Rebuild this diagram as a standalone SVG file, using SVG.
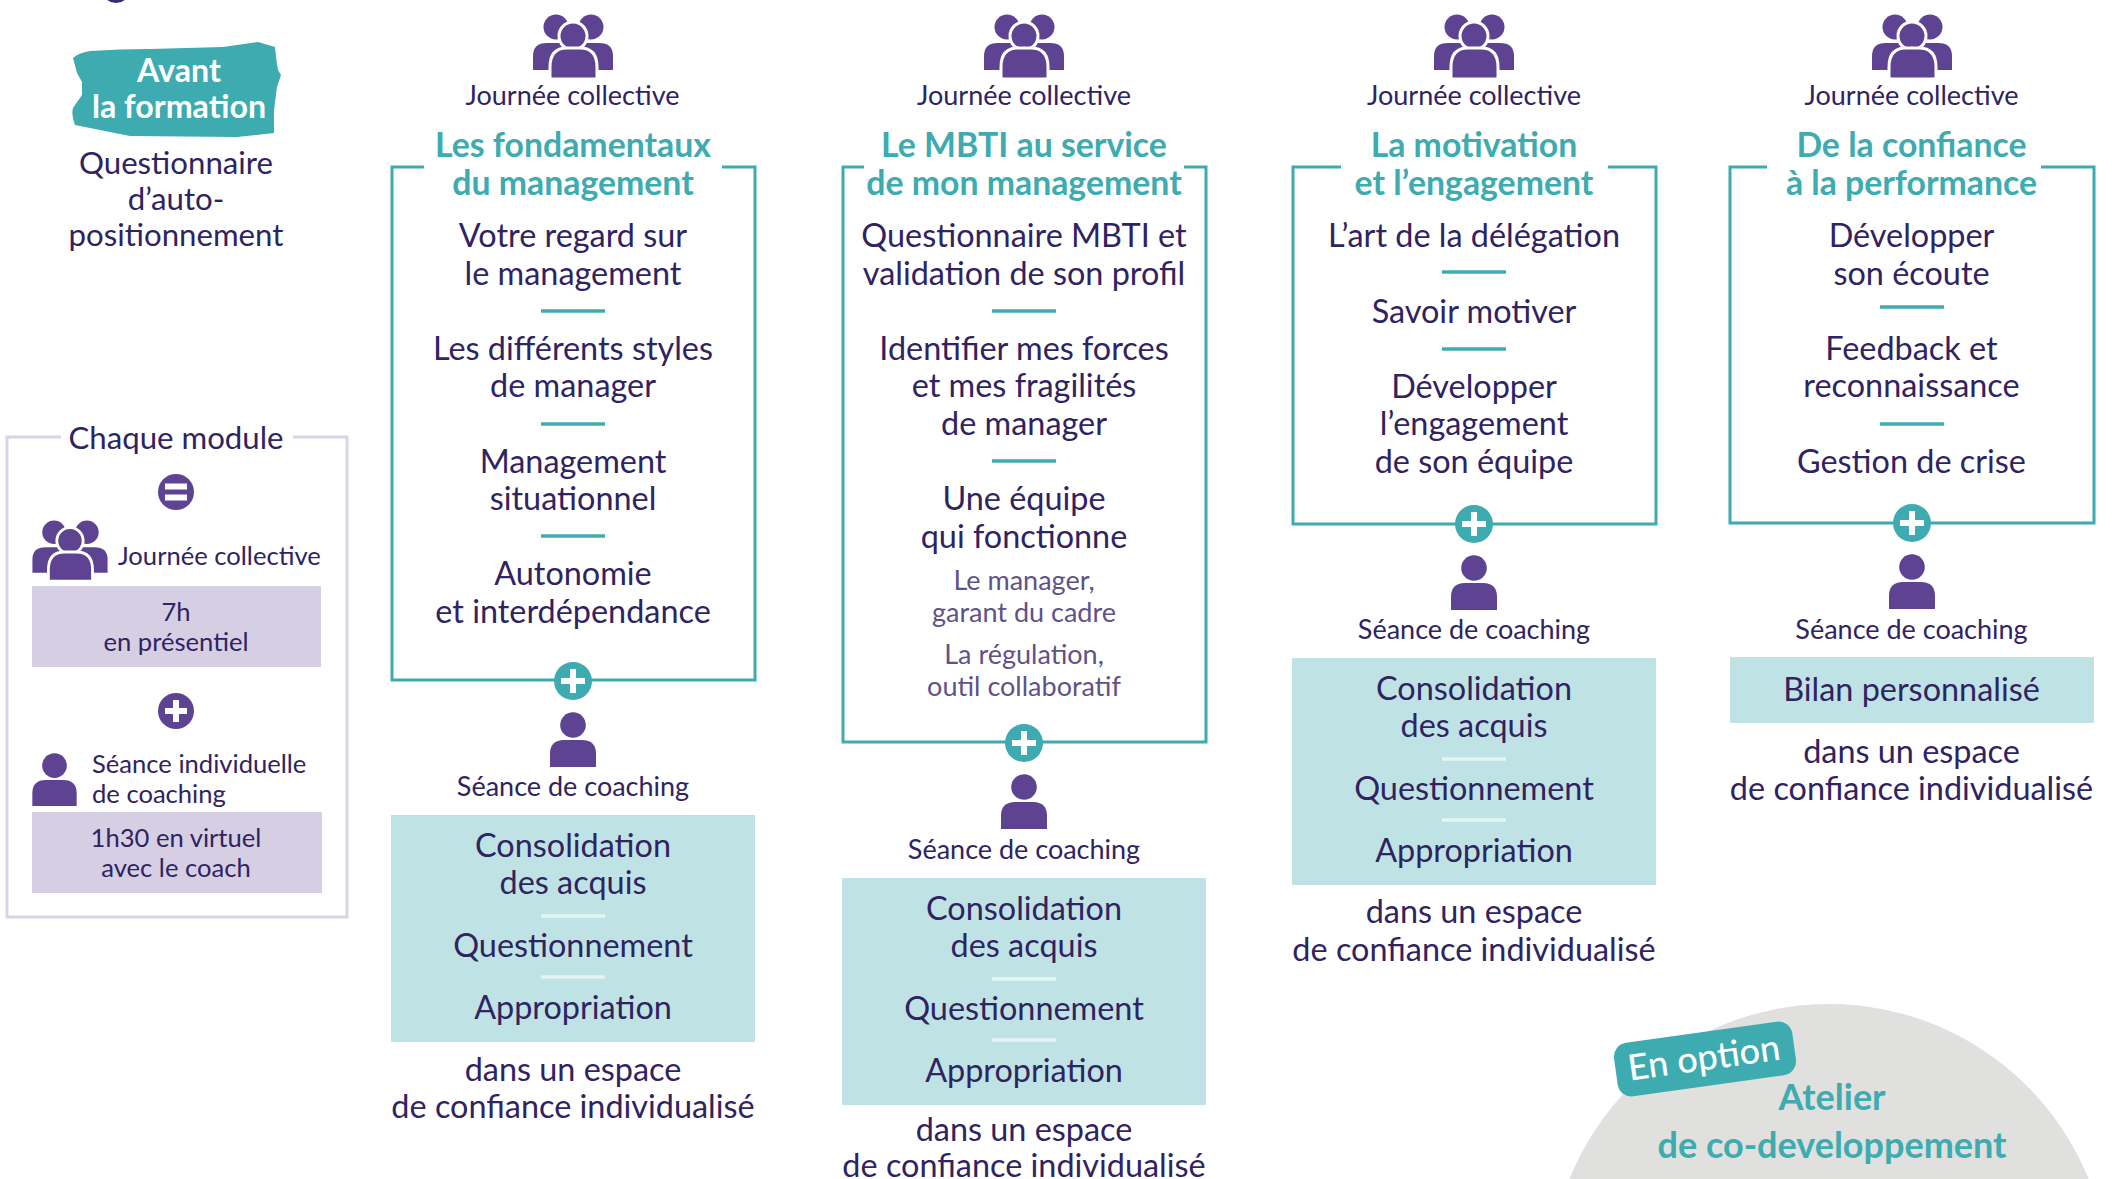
<svg xmlns="http://www.w3.org/2000/svg" width="2112" height="1179" viewBox="0 0 2112 1179">
<style>
text{font-family:"Lato","Noto Sans",sans-serif;text-anchor:middle;fill:#2f2361}
.q{font-size:31.200px}
.t{font-size:32.400px}
.h{font-size:33.800px;font-weight:700;fill:#3dabb0}
.j{font-size:27px}
.s{font-size:25.600px}
.l{font-size:27px;fill:#5f5288}
.w{fill:#fff;font-weight:700;font-size:32.200px}
.st{text-anchor:start}
.frame{fill:none;stroke:#3dabb0;stroke-width:3}
.mframe{fill:none;stroke:#d9d4e9;stroke-width:3}
.dash{stroke:#3dabb0;stroke-width:3.500}
.wdash{stroke:#e6f4f4;stroke-width:3.500}
.panel{fill:#bfe3e4}
.ppanel{fill:#d6cfe4}
.pb{stroke:#fff;stroke-width:6}
.big{font-size:36px}
</style>
<defs>
<symbol id="group" viewBox="0 0 80 66" overflow="visible">
<g fill="#5d4392">
<circle cx="23" cy="12" r="12.500"/><circle cx="58" cy="12" r="12.500"/>
<path d="M0 55V41Q0 28 14 28H66Q80 28 80 41V55Z"/>
<circle cx="40" cy="21" r="14" stroke="#fff" stroke-width="3"/>
<path d="M17 64V52Q17 33 34 33H47Q64 33 64 52V64Z" stroke="#fff" stroke-width="3"/>
</g>
</symbol>
<symbol id="person" viewBox="0 0 46 56" overflow="visible">
<g fill="#5d4392"><circle cx="23" cy="13" r="12.800"/><path d="M0 55V42Q0 28 14 28H32Q46 28 46 42V55Z"/></g>
</symbol>
<g id="plus"><circle r="19" fill="#3dabb0"/><path class="pb" d="M-12 0H12M0 -12V12"/></g>
<g id="pplus"><circle r="18" fill="#5d4392"/><path class="pb" d="M-11 0H11M0 -11V11"/></g>
</defs>
<rect width="2112" height="1179" fill="#fff"/>
<ellipse cx="116" cy="-8" rx="13" ry="11" fill="#3a2a6e"/>

<g id="avant">
<path d="M73 58Q78 53 90 51Q120 49 150 49L223 47L258 42L275 47Q276 60 278 70L281 75L277 87L274 110V133L237 137L130 136L90 128L75 125Q71 115 73 108L82 95V82L77 73Z" fill="#3dabb0"/>
<text class="w" x="179" y="82">Avant</text>
<text class="w" x="179" y="118">la formation</text>
</g>
<g id="questionnaire">
<text class="q" x="176" y="174">Questionnaire</text>
<text class="q" x="176" y="210">d’auto-</text>
<text class="q" x="176" y="246">positionnement</text>
</g>

<g id="chaque-module">
<path class="mframe" d="M61 437H7V917H347V437H293"/>
<text class="q" x="176" y="449">Chaque module</text>
<circle cx="176" cy="492" r="18" fill="#5d4392"/><path d="M165 486.500H187M165 497.500H187" stroke="#fff" stroke-width="6"/>
<use href="#group" x="32" y="521" width="76" height="62"/>
<text class="s st" x="118" y="565">Journée collective</text>
<rect class="ppanel" x="32" y="586" width="289" height="81"/>
<text class="s" x="176" y="621">7h</text>
<text class="s" x="176" y="651">en présentiel</text>
<use href="#pplus" x="176" y="711"/>
<use href="#person" x="32" y="753" width="45" height="54"/>
<text class="s st" x="92" y="773">Séance individuelle</text>
<text class="s st" x="92" y="803">de coaching</text>
<rect class="ppanel" x="32" y="812" width="290" height="81"/>
<text class="s" x="176" y="847">1h30 en virtuel</text>
<text class="s" x="176" y="877">avec le coach</text>
</g>

<g id="col1">
<use href="#group" x="533" y="15" width="80" height="66"/>
<text class="j" x="572.500" y="105">Journée collective</text>
<path class="frame" d="M424 167H392V680H755V167H722"/>
<text class="h" x="573" y="157">Les fondamentaux</text>
<text class="h" x="573" y="195">du management</text>
<text class="t" x="573" y="247">Votre regard sur</text>
<text class="t" x="573" y="285">le management</text>
<path class="dash" d="M541 311H605"/>
<text class="t" x="573" y="360">Les différents styles</text>
<text class="t" x="573" y="397">de manager</text>
<path class="dash" d="M541 424H605"/>
<text class="t" x="573" y="473">Management</text>
<text class="t" x="573" y="510">situationnel</text>
<path class="dash" d="M541 536H605"/>
<text class="t" x="573" y="585">Autonomie</text>
<text class="t" x="573" y="623">et interdépendance</text>
<use href="#plus" x="573" y="681"/>
<use href="#person" x="550" y="712" width="46" height="56"/>
<text class="j" x="573" y="796">Séance de coaching</text>
<rect class="panel" x="391" y="815" width="364" height="227"/>
<text class="t" x="573" y="857">Consolidation</text>
<text class="t" x="573" y="894">des acquis</text>
<path class="wdash" d="M541 916H605"/>
<text class="t" x="573" y="957">Questionnement</text>
<path class="wdash" d="M541 977H605"/>
<text class="t" x="573" y="1019">Appropriation</text>
<text class="t" x="573" y="1081">dans un espace</text>
<text class="t" x="573" y="1118">de confiance individualisé</text>
</g>

<g id="col2">
<use href="#group" x="984" y="15" width="80" height="66"/>
<text class="j" x="1024" y="105">Journée collective</text>
<path class="frame" d="M864 167H843V742H1206V167H1184"/>
<text class="h" x="1024" y="157">Le MBTI au service</text>
<text class="h" x="1024" y="195">de mon management</text>
<text class="t" x="1024" y="247">Questionnaire MBTI et</text>
<text class="t" x="1024" y="285">validation de son profil</text>
<path class="dash" d="M992 311H1056"/>
<text class="t" x="1024" y="360">Identifier mes forces</text>
<text class="t" x="1024" y="397">et mes fragilités</text>
<text class="t" x="1024" y="435">de manager</text>
<path class="dash" d="M992 461H1056"/>
<text class="t" x="1024" y="510">Une équipe</text>
<text class="t" x="1024" y="548">qui fonctionne</text>
<text class="l" x="1024" y="590">Le manager,</text>
<text class="l" x="1024" y="622">garant du cadre</text>
<text class="l" x="1024" y="664">La régulation,</text>
<text class="l" x="1024" y="696">outil collaboratif</text>
<use href="#plus" x="1024" y="743"/>
<use href="#person" x="1001" y="774" width="46" height="56"/>
<text class="j" x="1024" y="859">Séance de coaching</text>
<rect class="panel" x="842" y="878" width="364" height="227"/>
<text class="t" x="1024" y="920">Consolidation</text>
<text class="t" x="1024" y="957">des acquis</text>
<path class="wdash" d="M992 979H1056"/>
<text class="t" x="1024" y="1020">Questionnement</text>
<path class="wdash" d="M992 1040H1056"/>
<text class="t" x="1024" y="1082">Appropriation</text>
<text class="t" x="1024" y="1141">dans un espace</text>
<text class="t" x="1024" y="1177">de confiance individualisé</text>
</g>

<g id="col3">
<use href="#group" x="1434" y="15" width="80" height="66"/>
<text class="j" x="1474" y="105">Journée collective</text>
<path class="frame" d="M1341 167H1293V524H1656V167H1608"/>
<text class="h" x="1474" y="157">La motivation</text>
<text class="h" x="1474" y="195">et l’engagement</text>
<text class="t" x="1474" y="247">L’art de la délégation</text>
<path class="dash" d="M1442 272H1506"/>
<text class="t" x="1474" y="323">Savoir motiver</text>
<path class="dash" d="M1442 349H1506"/>
<text class="t" x="1474" y="398">Développer</text>
<text class="t" x="1474" y="435">l’engagement</text>
<text class="t" x="1474" y="473">de son équipe</text>
<use href="#plus" x="1474" y="524"/>
<use href="#person" x="1451" y="555" width="46" height="56"/>
<text class="j" x="1474" y="639">Séance de coaching</text>
<rect class="panel" x="1292" y="658" width="364" height="227"/>
<text class="t" x="1474" y="700">Consolidation</text>
<text class="t" x="1474" y="737">des acquis</text>
<path class="wdash" d="M1442 759H1506"/>
<text class="t" x="1474" y="800">Questionnement</text>
<path class="wdash" d="M1442 820H1506"/>
<text class="t" x="1474" y="862">Appropriation</text>
<text class="t" x="1474" y="923">dans un espace</text>
<text class="t" x="1474" y="961">de confiance individualisé</text>
</g>

<g id="col4">
<use href="#group" x="1872" y="15" width="80" height="66"/>
<text class="j" x="1911.500" y="105">Journée collective</text>
<path class="frame" d="M1767 167H1730V523H2094V167H2041"/>
<text class="h" x="1911.500" y="157">De la confiance</text>
<text class="h" x="1911.500" y="195">à la performance</text>
<text class="t" x="1911.500" y="247">Développer</text>
<text class="t" x="1911.500" y="285">son écoute</text>
<path class="dash" d="M1880 307H1944"/>
<text class="t" x="1911.500" y="360">Feedback et</text>
<text class="t" x="1911.500" y="397">reconnaissance</text>
<path class="dash" d="M1880 424H1944"/>
<text class="t" x="1911.500" y="473">Gestion de crise</text>
<use href="#plus" x="1912" y="523"/>
<use href="#person" x="1889" y="554" width="46" height="56"/>
<text class="j" x="1911.500" y="639">Séance de coaching</text>
<rect class="panel" x="1730" y="657" width="364" height="66"/>
<text class="t" x="1911.500" y="701">Bilan personnalisé</text>
<text class="t" x="1911.500" y="763">dans un espace</text>
<text class="t" x="1911.500" y="800">de confiance individualisé</text>
</g>

<g id="option">
<circle cx="1829" cy="1284" r="280" fill="#e0e0de"/>
<g transform="rotate(-8 1705 1059)">
<rect x="1615" y="1032" width="180" height="54" rx="14" fill="#3dabb0"/>
<text x="1704" y="1070" font-size="36" style="fill:#fff" font-weight="500">En option</text>
</g>
<text class="h big" x="1832" y="1110">Atelier</text>
<text class="h big" x="1832" y="1158">de co-developpement</text>
</g>
</svg>
